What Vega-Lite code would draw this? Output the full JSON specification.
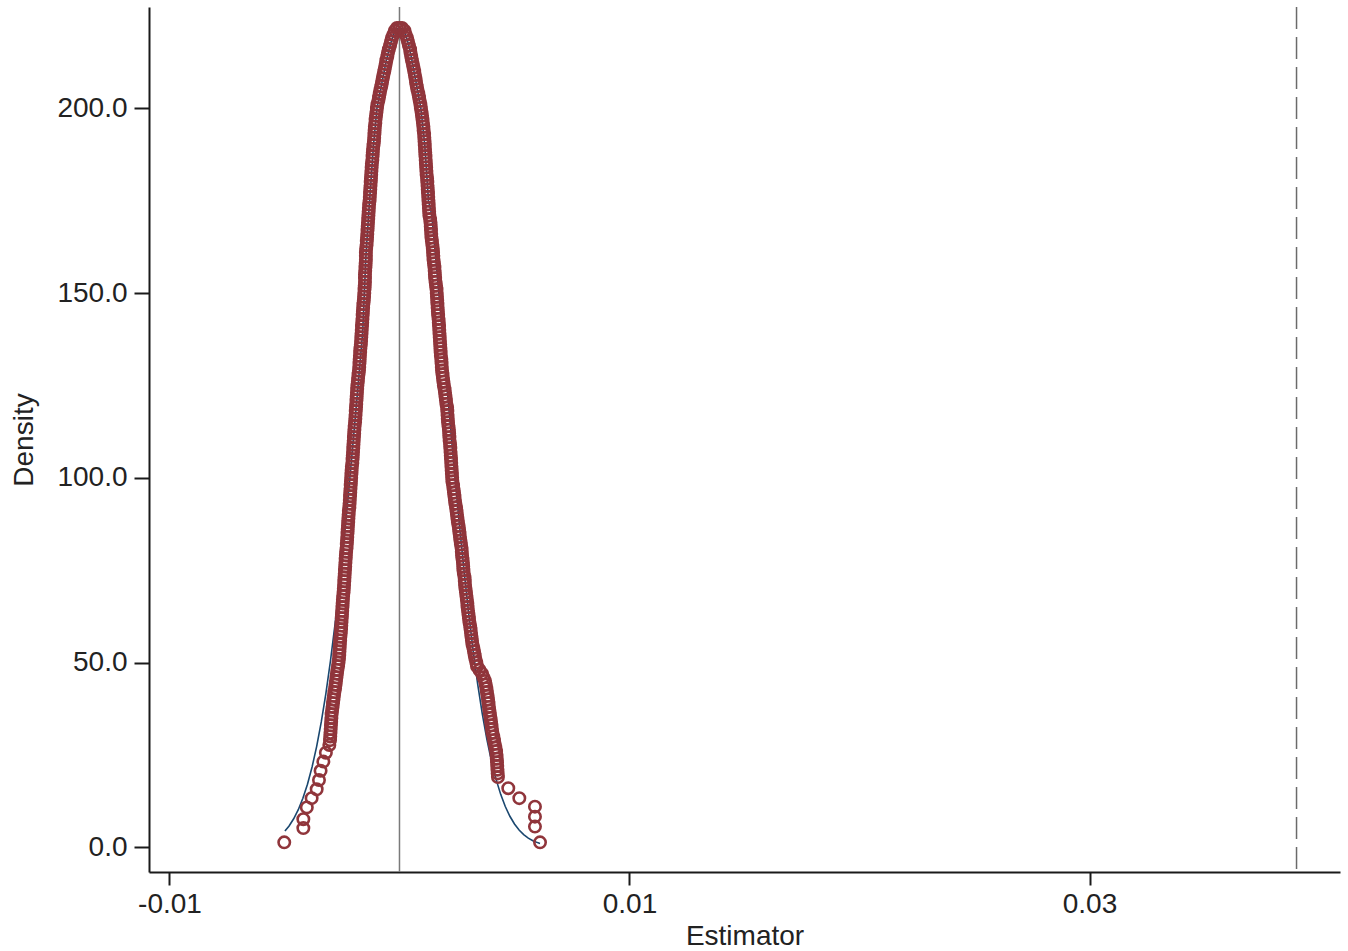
{
  "$schema": "https://vega.github.io/schema/vega-lite/v6.json",
  "width": 1191,
  "height": 865,
  "autosize": "none",
  "padding": {"left": 149, "top": 7, "right": 8, "bottom": 79},
  "background": "white",
  "config": {
    "view": {"stroke": null},
    "axis": {
      "grid": false,
      "domainColor": "#1a1a1a",
      "domainWidth": 2,
      "tickColor": "#1a1a1a",
      "tickWidth": 2,
      "labelFont": "Liberation Sans",
      "labelFontSize": 28,
      "labelColor": "#222222",
      "titleFont": "Liberation Sans",
      "titleFontSize": 28,
      "titleFontWeight": "normal",
      "titleColor": "#222222"
    },
    "axisX": {"tickSize": 13, "labelPadding": 5, "titlePadding": 4},
    "axisY": {"tickSize": 15, "labelPadding": 7, "titlePadding": 18}
  },
  "datasets": {
    "refs": [{"x": 0, "kind": "solid"}, {"x": 0.039, "kind": "dashed"}],
    "norm": [
      {"x": -0.00498, "y": 4.42}, {"x": -0.0048, "y": 5.79}, {"x": -0.0046, "y": 7.73}, {"x": -0.0044, "y": 10.18},
      {"x": -0.0042, "y": 13.27}, {"x": -0.004, "y": 17.08}, {"x": -0.0038, "y": 21.73}, {"x": -0.0036, "y": 27.32},
      {"x": -0.0034, "y": 33.94}, {"x": -0.0032, "y": 41.62}, {"x": -0.003, "y": 50.49}, {"x": -0.0028, "y": 60.5},
      {"x": -0.0026, "y": 71.66}, {"x": -0.0024, "y": 83.82}, {"x": -0.0022, "y": 96.9}, {"x": -0.002, "y": 110.8},
      {"x": -0.0018, "y": 125.0}, {"x": -0.0016, "y": 139.4}, {"x": -0.00146, "y": 160}, {"x": -0.0013, "y": 175},
      {"x": -0.00113, "y": 190}, {"x": -0.00098, "y": 200}, {"x": -0.00076, "y": 207}, {"x": -0.00057, "y": 213},
      {"x": -0.00041, "y": 217}, {"x": -0.00026, "y": 220}, {"x": -0.0001, "y": 221.5}, {"x": 0.0001, "y": 221.5},
      {"x": 0.00026, "y": 220}, {"x": 0.00041, "y": 217}, {"x": 0.00054, "y": 213}, {"x": 0.00072, "y": 207},
      {"x": 0.00093, "y": 200}, {"x": 0.0011, "y": 190}, {"x": 0.00126, "y": 175},
      {"x": 0.0014, "y": 171.3}, {"x": 0.0016, "y": 157.9}, {"x": 0.0018, "y": 143.7}, {"x": 0.002, "y": 129.3},
      {"x": 0.0022, "y": 114.9}, {"x": 0.0024, "y": 101.0}, {"x": 0.0026, "y": 87.66}, {"x": 0.0028, "y": 75.21},
      {"x": 0.003, "y": 63.72}, {"x": 0.0032, "y": 53.39}, {"x": 0.0034, "y": 44.17}, {"x": 0.0036, "y": 36.12},
      {"x": 0.0038, "y": 29.19}, {"x": 0.004, "y": 23.3}, {"x": 0.0042, "y": 18.38}, {"x": 0.0044, "y": 14.33},
      {"x": 0.0046, "y": 11.03}, {"x": 0.0048, "y": 8.4}, {"x": 0.005, "y": 6.32}, {"x": 0.0052, "y": 4.7},
      {"x": 0.0054, "y": 3.45}, {"x": 0.0056, "y": 2.5}, {"x": 0.0058, "y": 1.79}, {"x": 0.006, "y": 1.27},
      {"x": 0.00611, "y": 1.05}
    ],
    "dens": [
      {"x": -0.00011, "y": 221.7}, {"x": 0.0, "y": 221.7}, {"x": 0.00011, "y": 221.7},
      {"x": -0.0002, "y": 221}, {"x": -0.00026, "y": 220}, {"x": -0.00033, "y": 219}, {"x": -0.00037, "y": 218},
      {"x": -0.00041, "y": 217}, {"x": -0.00046, "y": 216}, {"x": -0.0005, "y": 215}, {"x": -0.00053, "y": 214},
      {"x": -0.00057, "y": 213}, {"x": -0.0006, "y": 212}, {"x": -0.00063, "y": 211}, {"x": -0.00066, "y": 210},
      {"x": -0.0007, "y": 209}, {"x": -0.00073, "y": 208}, {"x": -0.00076, "y": 207}, {"x": -0.00079, "y": 206},
      {"x": -0.00083, "y": 205}, {"x": -0.00086, "y": 204}, {"x": -0.00089, "y": 203}, {"x": -0.00092, "y": 202},
      {"x": -0.00096, "y": 201}, {"x": -0.00098, "y": 200}, {"x": -0.001, "y": 199}, {"x": -0.00102, "y": 198},
      {"x": -0.00104, "y": 197}, {"x": -0.00105, "y": 196}, {"x": -0.00107, "y": 195}, {"x": -0.00108, "y": 194},
      {"x": -0.00109, "y": 193}, {"x": -0.0011, "y": 192}, {"x": -0.00111, "y": 191}, {"x": -0.00113, "y": 190},
      {"x": -0.00115, "y": 189}, {"x": -0.00116, "y": 188}, {"x": -0.00117, "y": 187}, {"x": -0.00118, "y": 186},
      {"x": -0.0012, "y": 185}, {"x": -0.00121, "y": 184}, {"x": -0.00122, "y": 183}, {"x": -0.00123, "y": 182},
      {"x": -0.00124, "y": 181}, {"x": -0.00125, "y": 180}, {"x": -0.00126, "y": 179}, {"x": -0.00127, "y": 178},
      {"x": -0.00128, "y": 177}, {"x": -0.00129, "y": 176}, {"x": -0.0013, "y": 175}, {"x": -0.00132, "y": 174},
      {"x": -0.00133, "y": 173}, {"x": -0.00134, "y": 172}, {"x": -0.00135, "y": 171}, {"x": -0.00136, "y": 170},
      {"x": -0.00137, "y": 169}, {"x": -0.00138, "y": 168}, {"x": -0.00139, "y": 167}, {"x": -0.0014, "y": 166},
      {"x": -0.00141, "y": 165}, {"x": -0.00142, "y": 164}, {"x": -0.00143, "y": 163}, {"x": -0.00145, "y": 162},
      {"x": -0.00146, "y": 161}, {"x": -0.00146, "y": 160}, {"x": -0.00146, "y": 159}, {"x": -0.00147, "y": 158},
      {"x": -0.00148, "y": 157}, {"x": -0.00149, "y": 156}, {"x": -0.0015, "y": 155}, {"x": -0.0015, "y": 154},
      {"x": -0.0015, "y": 153}, {"x": -0.00151, "y": 152}, {"x": -0.00152, "y": 151}, {"x": -0.00153, "y": 150},
      {"x": -0.00154, "y": 149}, {"x": -0.00155, "y": 148}, {"x": -0.00157, "y": 147}, {"x": -0.00158, "y": 146},
      {"x": -0.00159, "y": 145}, {"x": -0.0016, "y": 144}, {"x": -0.00161, "y": 143}, {"x": -0.00162, "y": 142},
      {"x": -0.00163, "y": 141}, {"x": -0.00164, "y": 140}, {"x": -0.00165, "y": 139}, {"x": -0.00166, "y": 138},
      {"x": -0.00167, "y": 137}, {"x": -0.00168, "y": 136}, {"x": -0.0017, "y": 135}, {"x": -0.00171, "y": 134},
      {"x": -0.00172, "y": 133}, {"x": -0.00173, "y": 132}, {"x": -0.00174, "y": 131}, {"x": -0.00175, "y": 130},
      {"x": -0.00176, "y": 129}, {"x": -0.00178, "y": 128}, {"x": -0.0018, "y": 127}, {"x": -0.00181, "y": 126},
      {"x": -0.00183, "y": 125}, {"x": -0.00184, "y": 124}, {"x": -0.00185, "y": 123}, {"x": -0.00186, "y": 122},
      {"x": -0.00187, "y": 121}, {"x": -0.00188, "y": 120}, {"x": -0.00189, "y": 119}, {"x": -0.0019, "y": 118},
      {"x": -0.00191, "y": 117}, {"x": -0.00192, "y": 116}, {"x": -0.00193, "y": 115}, {"x": -0.00195, "y": 114},
      {"x": -0.00196, "y": 113}, {"x": -0.00197, "y": 112}, {"x": -0.00198, "y": 111}, {"x": -0.00199, "y": 110},
      {"x": -0.002, "y": 109}, {"x": -0.00201, "y": 108}, {"x": -0.00202, "y": 107}, {"x": -0.00203, "y": 106},
      {"x": -0.00204, "y": 105}, {"x": -0.00205, "y": 104}, {"x": -0.00207, "y": 103}, {"x": -0.00208, "y": 102},
      {"x": -0.00209, "y": 101}, {"x": -0.0021, "y": 100}, {"x": -0.00211, "y": 99}, {"x": -0.00212, "y": 98},
      {"x": -0.00213, "y": 97}, {"x": -0.00214, "y": 96}, {"x": -0.00215, "y": 95}, {"x": -0.00216, "y": 94},
      {"x": -0.00217, "y": 93}, {"x": -0.00218, "y": 92}, {"x": -0.0022, "y": 91}, {"x": -0.00221, "y": 90},
      {"x": -0.00222, "y": 89}, {"x": -0.00223, "y": 88}, {"x": -0.00224, "y": 87}, {"x": -0.00225, "y": 86},
      {"x": -0.00226, "y": 85}, {"x": -0.00227, "y": 84}, {"x": -0.00228, "y": 83}, {"x": -0.00229, "y": 82},
      {"x": -0.0023, "y": 81}, {"x": -0.00232, "y": 80}, {"x": -0.00233, "y": 79}, {"x": -0.00234, "y": 78},
      {"x": -0.00235, "y": 77}, {"x": -0.00236, "y": 76}, {"x": -0.00237, "y": 75}, {"x": -0.00238, "y": 74},
      {"x": -0.00239, "y": 73}, {"x": -0.0024, "y": 72}, {"x": -0.00241, "y": 71}, {"x": -0.00242, "y": 70},
      {"x": -0.00243, "y": 69}, {"x": -0.00245, "y": 68}, {"x": -0.00246, "y": 67}, {"x": -0.00247, "y": 66},
      {"x": -0.00248, "y": 65}, {"x": -0.00249, "y": 64}, {"x": -0.0025, "y": 63}, {"x": -0.00251, "y": 62},
      {"x": -0.00252, "y": 61}, {"x": -0.00253, "y": 60}, {"x": -0.00254, "y": 59}, {"x": -0.00255, "y": 58},
      {"x": -0.00257, "y": 57}, {"x": -0.00258, "y": 56}, {"x": -0.00259, "y": 55}, {"x": -0.0026, "y": 54},
      {"x": -0.00261, "y": 53}, {"x": -0.00262, "y": 52}, {"x": -0.00263, "y": 51}, {"x": -0.00265, "y": 50},
      {"x": -0.00267, "y": 49}, {"x": -0.0027, "y": 48}, {"x": -0.00272, "y": 47}, {"x": -0.00274, "y": 46},
      {"x": -0.00276, "y": 45}, {"x": -0.00278, "y": 44}, {"x": -0.0028, "y": 43}, {"x": -0.00283, "y": 42},
      {"x": -0.00285, "y": 41}, {"x": -0.00287, "y": 40}, {"x": -0.00289, "y": 39}, {"x": -0.00291, "y": 38},
      {"x": -0.00293, "y": 37}, {"x": -0.00295, "y": 36}, {"x": -0.00296, "y": 35}, {"x": -0.00297, "y": 34},
      {"x": -0.00298, "y": 33}, {"x": -0.00299, "y": 32}, {"x": -0.003, "y": 31}, {"x": -0.00301, "y": 30},
      {"x": -0.00302, "y": 29}, {"x": -0.00305, "y": 27.7}, {"x": -0.0032, "y": 25.6}, {"x": -0.00331, "y": 23.2},
      {"x": -0.00343, "y": 20.7}, {"x": -0.0035, "y": 18.2}, {"x": -0.0036, "y": 15.7}, {"x": -0.00382, "y": 13.3},
      {"x": -0.00403, "y": 10.8}, {"x": -0.00418, "y": 7.6}, {"x": -0.00418, "y": 5.2}, {"x": -0.00501, "y": 1.35},
      {"x": 0.00022, "y": 221}, {"x": 0.00026, "y": 220}, {"x": 0.00033, "y": 219}, {"x": 0.00037, "y": 218},
      {"x": 0.00041, "y": 217}, {"x": 0.00046, "y": 216}, {"x": 0.00048, "y": 215}, {"x": 0.00051, "y": 214},
      {"x": 0.00054, "y": 213}, {"x": 0.00058, "y": 212}, {"x": 0.00061, "y": 211}, {"x": 0.00064, "y": 210},
      {"x": 0.00067, "y": 209}, {"x": 0.0007, "y": 208}, {"x": 0.00072, "y": 207}, {"x": 0.00075, "y": 206},
      {"x": 0.00078, "y": 205}, {"x": 0.00082, "y": 204}, {"x": 0.00085, "y": 203}, {"x": 0.00088, "y": 202},
      {"x": 0.00091, "y": 201}, {"x": 0.00093, "y": 200}, {"x": 0.00096, "y": 199}, {"x": 0.00098, "y": 198},
      {"x": 0.001, "y": 197}, {"x": 0.00102, "y": 196}, {"x": 0.00104, "y": 195}, {"x": 0.00105, "y": 194},
      {"x": 0.00107, "y": 193}, {"x": 0.00108, "y": 192}, {"x": 0.00109, "y": 191}, {"x": 0.0011, "y": 190},
      {"x": 0.00111, "y": 189}, {"x": 0.00112, "y": 188}, {"x": 0.00113, "y": 187}, {"x": 0.00114, "y": 186},
      {"x": 0.00115, "y": 185}, {"x": 0.00116, "y": 184}, {"x": 0.00117, "y": 183}, {"x": 0.00118, "y": 182},
      {"x": 0.0012, "y": 181}, {"x": 0.00121, "y": 180}, {"x": 0.00122, "y": 179}, {"x": 0.00123, "y": 178},
      {"x": 0.00124, "y": 177}, {"x": 0.00125, "y": 176}, {"x": 0.00126, "y": 175}, {"x": 0.00127, "y": 174},
      {"x": 0.00128, "y": 173}, {"x": 0.00129, "y": 172}, {"x": 0.0013, "y": 171}, {"x": 0.00133, "y": 170},
      {"x": 0.00135, "y": 169}, {"x": 0.00136, "y": 168}, {"x": 0.00137, "y": 167}, {"x": 0.00138, "y": 166},
      {"x": 0.00139, "y": 165}, {"x": 0.00141, "y": 164}, {"x": 0.00143, "y": 163}, {"x": 0.00145, "y": 162},
      {"x": 0.00146, "y": 161}, {"x": 0.00147, "y": 160}, {"x": 0.00148, "y": 159}, {"x": 0.0015, "y": 158},
      {"x": 0.00152, "y": 157}, {"x": 0.00153, "y": 156}, {"x": 0.00154, "y": 155}, {"x": 0.00155, "y": 154},
      {"x": 0.00157, "y": 153}, {"x": 0.00159, "y": 152}, {"x": 0.00161, "y": 151}, {"x": 0.00162, "y": 150},
      {"x": 0.00163, "y": 149}, {"x": 0.00164, "y": 148}, {"x": 0.00165, "y": 147}, {"x": 0.00166, "y": 146},
      {"x": 0.00167, "y": 145}, {"x": 0.00168, "y": 144}, {"x": 0.0017, "y": 143}, {"x": 0.00171, "y": 142},
      {"x": 0.00172, "y": 141}, {"x": 0.00173, "y": 140}, {"x": 0.00174, "y": 139}, {"x": 0.00175, "y": 138},
      {"x": 0.00176, "y": 137}, {"x": 0.00177, "y": 136}, {"x": 0.00178, "y": 135}, {"x": 0.00179, "y": 134},
      {"x": 0.0018, "y": 133}, {"x": 0.00182, "y": 132}, {"x": 0.00183, "y": 131}, {"x": 0.00184, "y": 130},
      {"x": 0.00185, "y": 129}, {"x": 0.00187, "y": 128}, {"x": 0.00189, "y": 127}, {"x": 0.00191, "y": 126},
      {"x": 0.00193, "y": 125}, {"x": 0.00196, "y": 124}, {"x": 0.00198, "y": 123}, {"x": 0.002, "y": 122},
      {"x": 0.00202, "y": 121}, {"x": 0.00204, "y": 120}, {"x": 0.00207, "y": 119}, {"x": 0.00208, "y": 118},
      {"x": 0.00209, "y": 117}, {"x": 0.0021, "y": 116}, {"x": 0.00211, "y": 115}, {"x": 0.00213, "y": 114},
      {"x": 0.00215, "y": 113}, {"x": 0.00216, "y": 112}, {"x": 0.00217, "y": 111}, {"x": 0.00218, "y": 110},
      {"x": 0.0022, "y": 109}, {"x": 0.00221, "y": 108}, {"x": 0.00222, "y": 107}, {"x": 0.00223, "y": 106},
      {"x": 0.00224, "y": 105}, {"x": 0.00225, "y": 104}, {"x": 0.00226, "y": 103}, {"x": 0.00227, "y": 102},
      {"x": 0.00228, "y": 101}, {"x": 0.00229, "y": 100}, {"x": 0.0023, "y": 99}, {"x": 0.00233, "y": 98},
      {"x": 0.00235, "y": 97}, {"x": 0.00237, "y": 96}, {"x": 0.00239, "y": 95}, {"x": 0.00241, "y": 94},
      {"x": 0.00243, "y": 93}, {"x": 0.00246, "y": 92}, {"x": 0.00248, "y": 91}, {"x": 0.0025, "y": 90},
      {"x": 0.00252, "y": 89}, {"x": 0.00254, "y": 88}, {"x": 0.00257, "y": 87}, {"x": 0.00259, "y": 86},
      {"x": 0.00261, "y": 85}, {"x": 0.00263, "y": 84}, {"x": 0.00265, "y": 83}, {"x": 0.00267, "y": 82},
      {"x": 0.0027, "y": 81}, {"x": 0.00271, "y": 80}, {"x": 0.00272, "y": 79}, {"x": 0.00274, "y": 78},
      {"x": 0.00276, "y": 77}, {"x": 0.00277, "y": 76}, {"x": 0.00278, "y": 75}, {"x": 0.0028, "y": 74},
      {"x": 0.00283, "y": 73}, {"x": 0.00284, "y": 72}, {"x": 0.00285, "y": 71}, {"x": 0.00287, "y": 70},
      {"x": 0.00289, "y": 69}, {"x": 0.00291, "y": 68}, {"x": 0.00293, "y": 67}, {"x": 0.00295, "y": 66},
      {"x": 0.00296, "y": 65}, {"x": 0.00298, "y": 64}, {"x": 0.003, "y": 63}, {"x": 0.00302, "y": 62},
      {"x": 0.00304, "y": 61}, {"x": 0.00307, "y": 60}, {"x": 0.00309, "y": 59}, {"x": 0.00311, "y": 58},
      {"x": 0.00313, "y": 57}, {"x": 0.00315, "y": 56}, {"x": 0.00317, "y": 55}, {"x": 0.00321, "y": 54},
      {"x": 0.00324, "y": 53}, {"x": 0.00327, "y": 52}, {"x": 0.0033, "y": 51}, {"x": 0.00334, "y": 50},
      {"x": 0.00337, "y": 49}, {"x": 0.00348, "y": 48}, {"x": 0.00359, "y": 47}, {"x": 0.00365, "y": 46},
      {"x": 0.00372, "y": 45}, {"x": 0.00375, "y": 44}, {"x": 0.00378, "y": 43}, {"x": 0.0038, "y": 42},
      {"x": 0.00383, "y": 41}, {"x": 0.00385, "y": 40}, {"x": 0.00387, "y": 39}, {"x": 0.00389, "y": 38},
      {"x": 0.00391, "y": 37}, {"x": 0.00393, "y": 36}, {"x": 0.00396, "y": 35}, {"x": 0.00398, "y": 34},
      {"x": 0.004, "y": 33}, {"x": 0.00402, "y": 32}, {"x": 0.00404, "y": 31}, {"x": 0.00408, "y": 30},
      {"x": 0.00411, "y": 29}, {"x": 0.00414, "y": 28}, {"x": 0.00417, "y": 27}, {"x": 0.0042, "y": 26},
      {"x": 0.00422, "y": 25}, {"x": 0.00423, "y": 24}, {"x": 0.00424, "y": 23}, {"x": 0.00425, "y": 22},
      {"x": 0.00426, "y": 21}, {"x": 0.00427, "y": 20}, {"x": 0.00428, "y": 19}, {"x": 0.00473, "y": 16},
      {"x": 0.00521, "y": 13.3}, {"x": 0.00589, "y": 11}, {"x": 0.00589, "y": 8.3}, {"x": 0.00589, "y": 5.6},
      {"x": 0.00611, "y": 1.35}
    ]
  },
  "layer": [
    {
      "data": {"name": "refs"},
      "mark": {"type": "rule", "strokeWidth": 1.5},
      "encoding": {
        "x": {"field": "x", "type": "quantitative",
              "scale": {"domain": [-0.01089, 0.04089], "nice": false, "zero": false},
              "axis": {"values": [-0.01, 0.01, 0.03], "title": "Estimator",
                       "labelExpr": "datum.value < 0 ? '-' + format(-datum.value, '.2f') : format(datum.value, '.2f')"}},
        "color": {"field": "kind", "type": "nominal", "scale": {"domain": ["solid", "dashed"], "range": ["#7a7a7a", "#6a6a6a"]}, "legend": null},
        "strokeDash": {"field": "kind", "type": "nominal", "scale": {"domain": ["solid", "dashed"], "range": [[1, 0], [22, 8]]}, "legend": null}
      }
    },
    {
      "data": {"name": "norm"},
      "mark": {"type": "line", "color": "#1a476f", "strokeWidth": 1.6},
      "encoding": {
        "x": {"field": "x", "type": "quantitative", "scale": {"domain": [-0.01089, 0.04089], "nice": false, "zero": false}, "title": "Estimator"},
        "y": {"field": "y", "type": "quantitative",
              "scale": {"domain": [-6.68, 227.4], "nice": false, "zero": false},
              "axis": {"values": [0, 50, 100, 150, 200], "format": ".1f", "title": "Density"}}
      }
    },
    {
      "data": {"name": "dens"},
      "mark": {"type": "point", "shape": "circle", "filled": false, "color": "#90353b", "size": 130, "strokeWidth": 2.6, "opacity": 1},
      "encoding": {
        "x": {"field": "x", "type": "quantitative", "scale": {"domain": [-0.01089, 0.04089], "nice": false, "zero": false}, "title": "Estimator"},
        "y": {"field": "y", "type": "quantitative", "scale": {"domain": [-6.68, 227.4], "nice": false, "zero": false}, "title": "Density"}
      }
    }
  ]
}
